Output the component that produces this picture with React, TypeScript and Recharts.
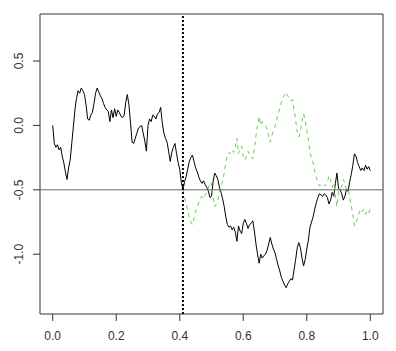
import React from "react";
import { LineChart, Line, XAxis, YAxis, ReferenceLine, ReferenceArea } from "recharts";

const times = [
  0.000, 0.005, 0.010, 0.015, 0.020, 0.025, 0.030, 0.035, 0.040, 0.045,
  0.050, 0.055, 0.060, 0.065, 0.070, 0.075, 0.080, 0.085, 0.090, 0.095,
  0.100, 0.105, 0.110, 0.115, 0.120, 0.125, 0.130, 0.135, 0.140, 0.145,
  0.150, 0.155, 0.160, 0.165, 0.170, 0.175, 0.180, 0.185, 0.190, 0.195,
  0.200, 0.205, 0.210, 0.215, 0.220, 0.225, 0.230, 0.235, 0.240, 0.245,
  0.250, 0.255, 0.260, 0.265, 0.270, 0.275, 0.280, 0.285, 0.290, 0.295,
  0.300, 0.305, 0.310, 0.315, 0.320, 0.325, 0.330, 0.335, 0.340, 0.345,
  0.350, 0.355, 0.360, 0.365, 0.370, 0.375, 0.380, 0.385, 0.390, 0.395,
  0.400, 0.405, 0.410, 0.415, 0.420, 0.425, 0.430, 0.435, 0.440, 0.445,
  0.450, 0.455, 0.460, 0.465, 0.470, 0.475, 0.480, 0.485, 0.490, 0.495,
  0.500, 0.505, 0.510, 0.515, 0.520, 0.525, 0.530, 0.535, 0.540, 0.545,
  0.550, 0.555, 0.560, 0.565, 0.570, 0.575, 0.580, 0.585, 0.590, 0.595,
  0.600, 0.605, 0.610, 0.615, 0.620, 0.625, 0.630, 0.635, 0.640, 0.645,
  0.650, 0.655, 0.660, 0.665, 0.670, 0.675, 0.680, 0.685, 0.690, 0.695,
  0.700, 0.705, 0.710, 0.715, 0.720, 0.725, 0.730, 0.735, 0.740, 0.745,
  0.750, 0.755, 0.760, 0.765, 0.770, 0.775, 0.780, 0.785, 0.790, 0.795,
  0.800, 0.805, 0.810, 0.815, 0.820, 0.825, 0.830, 0.835, 0.840, 0.845,
  0.850, 0.855, 0.860, 0.865, 0.870, 0.875, 0.880, 0.885, 0.890, 0.895,
  0.900, 0.905, 0.910, 0.915, 0.920, 0.925, 0.930, 0.935, 0.940, 0.945,
  0.950, 0.955, 0.960, 0.965, 0.970, 0.975, 0.980, 0.985, 0.990, 0.995,
  1.000,
];

const pathValues = [
  0.00, -0.14, -0.17, -0.15, -0.19, -0.17, -0.24, -0.29, -0.36, -0.42,
  -0.33, -0.27, -0.14, -0.01, 0.12, 0.21, 0.27, 0.25, 0.29, 0.27,
  0.24, 0.16, 0.05, 0.04, 0.08, 0.10, 0.17, 0.25, 0.29, 0.26,
  0.23, 0.21, 0.17, 0.14, 0.12, 0.11, 0.03, 0.12, 0.06, 0.13,
  0.07, 0.12, 0.10, 0.07, 0.06, 0.08, 0.18, 0.24, 0.16, 0.02,
  -0.13, -0.14, -0.10, -0.06, -0.02, -0.01, 0.00, -0.06, -0.12, -0.20,
  0.00, 0.05, 0.03, 0.08, 0.07, 0.05, 0.09, 0.10, 0.14, 0.02,
  -0.06, -0.10, -0.13, -0.20, -0.28, -0.21, -0.17, -0.14, -0.22, -0.29,
  -0.34, -0.44, -0.50, -0.44, -0.40, -0.34, -0.28, -0.25, -0.23, -0.28,
  -0.33, -0.36, -0.40, -0.43, -0.45, -0.43, -0.46, -0.48, -0.51, -0.56,
  -0.55, -0.44, -0.37, -0.39, -0.42, -0.48, -0.52, -0.57, -0.63, -0.71,
  -0.77, -0.79, -0.78, -0.81, -0.79, -0.83, -0.90, -0.78, -0.82, -0.84,
  -0.76, -0.73, -0.76, -0.80, -0.77, -0.76, -0.74, -0.82, -0.92, -1.00,
  -1.07, -1.00, -1.03, -1.01, -1.00, -0.97, -0.92, -0.87, -0.92, -0.96,
  -0.99, -1.04, -1.09, -1.13, -1.18, -1.21, -1.24, -1.26, -1.23, -1.21,
  -1.19, -1.20, -1.12, -1.04, -0.95, -0.91, -0.95, -1.03, -1.09, -1.04,
  -0.96, -0.89, -0.79, -0.75, -0.71, -0.65, -0.60, -0.56, -0.53, -0.54,
  -0.55, -0.53, -0.54, -0.56, -0.61, -0.58, -0.52, -0.55, -0.45, -0.37,
  -0.49, -0.50, -0.53, -0.58, -0.55, -0.50, -0.51, -0.44, -0.38, -0.31,
  -0.22, -0.24, -0.29, -0.32, -0.35, -0.33, -0.35, -0.31, -0.34, -0.32,
  -0.35,
];

const reflectedTimes = [
  0.410, 0.415, 0.420, 0.425, 0.430, 0.435, 0.440, 0.445,
  0.450, 0.455, 0.460, 0.465, 0.470, 0.475, 0.480, 0.485, 0.490, 0.495,
  0.500, 0.505, 0.510, 0.515, 0.520, 0.525, 0.530, 0.535, 0.540, 0.545,
  0.550, 0.555, 0.560, 0.565, 0.570, 0.575, 0.580, 0.585, 0.590, 0.595,
  0.600, 0.605, 0.610, 0.615, 0.620, 0.625, 0.630, 0.635, 0.640, 0.645,
  0.650, 0.655, 0.660, 0.665, 0.670, 0.675, 0.680, 0.685, 0.690, 0.695,
  0.700, 0.705, 0.710, 0.715, 0.720, 0.725, 0.730, 0.735, 0.740, 0.745,
  0.750, 0.755, 0.760, 0.765, 0.770, 0.775, 0.780, 0.785, 0.790, 0.795,
  0.800, 0.805, 0.810, 0.815, 0.820, 0.825, 0.830, 0.835, 0.840, 0.845,
  0.850, 0.855, 0.860, 0.865, 0.870, 0.875, 0.880, 0.885, 0.890, 0.895,
  0.900, 0.905, 0.910, 0.915, 0.920, 0.925, 0.930, 0.935, 0.940, 0.945,
  0.950, 0.955, 0.960, 0.965, 0.970, 0.975, 0.980, 0.985, 0.990, 0.995,
  1.000,
];

const reflectedValues = [
  -0.50, -0.56, -0.60, -0.66, -0.72, -0.75, -0.77, -0.72,
  -0.67, -0.64, -0.60, -0.57, -0.55, -0.57, -0.54, -0.52, -0.49, -0.44,
  -0.45, -0.56, -0.63, -0.61, -0.58, -0.52, -0.48, -0.43, -0.37, -0.29,
  -0.23, -0.21, -0.22, -0.19, -0.21, -0.17, -0.10, -0.22, -0.18, -0.16,
  -0.24, -0.27, -0.24, -0.20, -0.23, -0.24, -0.26, -0.18, -0.08, 0.00,
  0.07, 0.00, 0.03, 0.01, 0.00, -0.03, -0.08, -0.13, -0.08, -0.04,
  -0.01, 0.04, 0.09, 0.13, 0.18, 0.21, 0.24, 0.26, 0.23, 0.21,
  0.19, 0.20, 0.12, 0.04, -0.05, -0.09, -0.05, 0.03, 0.09, 0.04,
  -0.04, -0.11, -0.21, -0.25, -0.29, -0.35, -0.40, -0.44, -0.47, -0.46,
  -0.45, -0.47, -0.46, -0.44, -0.39, -0.42, -0.48, -0.45, -0.55, -0.63,
  -0.51, -0.50, -0.47, -0.42, -0.45, -0.50, -0.49, -0.56, -0.62, -0.69,
  -0.78, -0.76, -0.71, -0.68, -0.65, -0.67, -0.65, -0.69, -0.66, -0.68,
  -0.65,
];

const xTicks = [0, 0.2, 0.4, 0.6, 0.8, 1.0];
const yTicks = [-1.0, -0.5, 0.0, 0.5];
const hittingTime = 0.41;
const level = -0.5;

const X_DOMAIN: [number, number] = [-0.04, 1.04];
const Y_DOMAIN: [number, number] = [-1.464, 0.865];

const pathData = times.map((t, i) => ({ t, v: pathValues[i] }));
const reflectedData = reflectedTimes.map((t, i) => ({ t, v: reflectedValues[i] }));

const FONT = "'Liberation Sans', Arial, sans-serif";

const YTick = (props: any) => {
  const { y, payload } = props;
  const bx = 23;
  return (
    <text
      x={bx}
      y={y}
      transform={`rotate(-90, ${bx}, ${y})`}
      textAnchor="middle"
      fontSize={12}
      fill="#333"
      fontFamily={FONT}
    >
      {Number(payload.value).toFixed(1)}
    </text>
  );
};

export default function App() {
  return (
    <div style={{ position: "absolute", left: 0, top: 0, background: "#fff" }}>
      <LineChart
        width={396}
        height={351}
        margin={{ top: 14, right: 13, bottom: 0, left: 0 }}
      >
        <XAxis
          type="number"
          dataKey="t"
          domain={X_DOMAIN}
          ticks={xTicks}
          allowDataOverflow
          axisLine={false}
          tickLine={{ stroke: "#333" }}
          tickSize={7}
          tickMargin={10}
          height={37}
          tick={{ fontSize: 12, fill: "#333", fontFamily: FONT }}
          tickFormatter={(v: number) => v.toFixed(1)}
        />
        <YAxis
          type="number"
          domain={Y_DOMAIN}
          ticks={yTicks}
          allowDataOverflow
          axisLine={false}
          tickLine={{ stroke: "#333" }}
          tickSize={7}
          width={40}
          tick={<YTick />}
        />
        <ReferenceArea
          x1={X_DOMAIN[0]}
          x2={X_DOMAIN[1]}
          y1={Y_DOMAIN[0]}
          y2={Y_DOMAIN[1]}
          fill="none"
          fillOpacity={0}
          stroke="#333"
          strokeWidth={1}
          ifOverflow="visible"
        />
        <Line
          data={pathData}
          dataKey="v"
          type="linear"
          stroke="#000"
          strokeWidth={1}
          dot={false}
          isAnimationActive={false}
        />
        <Line
          data={reflectedData}
          dataKey="v"
          type="linear"
          stroke="#61D04F"
          strokeWidth={1}
          strokeDasharray="4 4"
          dot={false}
          isAnimationActive={false}
        />
        <ReferenceLine y={level} stroke="#666" strokeWidth={1} />
        <ReferenceLine
          x={hittingTime}
          stroke="#000"
          strokeWidth={2}
          strokeDasharray="2 2"
        />
      </LineChart>
    </div>
  );
}
